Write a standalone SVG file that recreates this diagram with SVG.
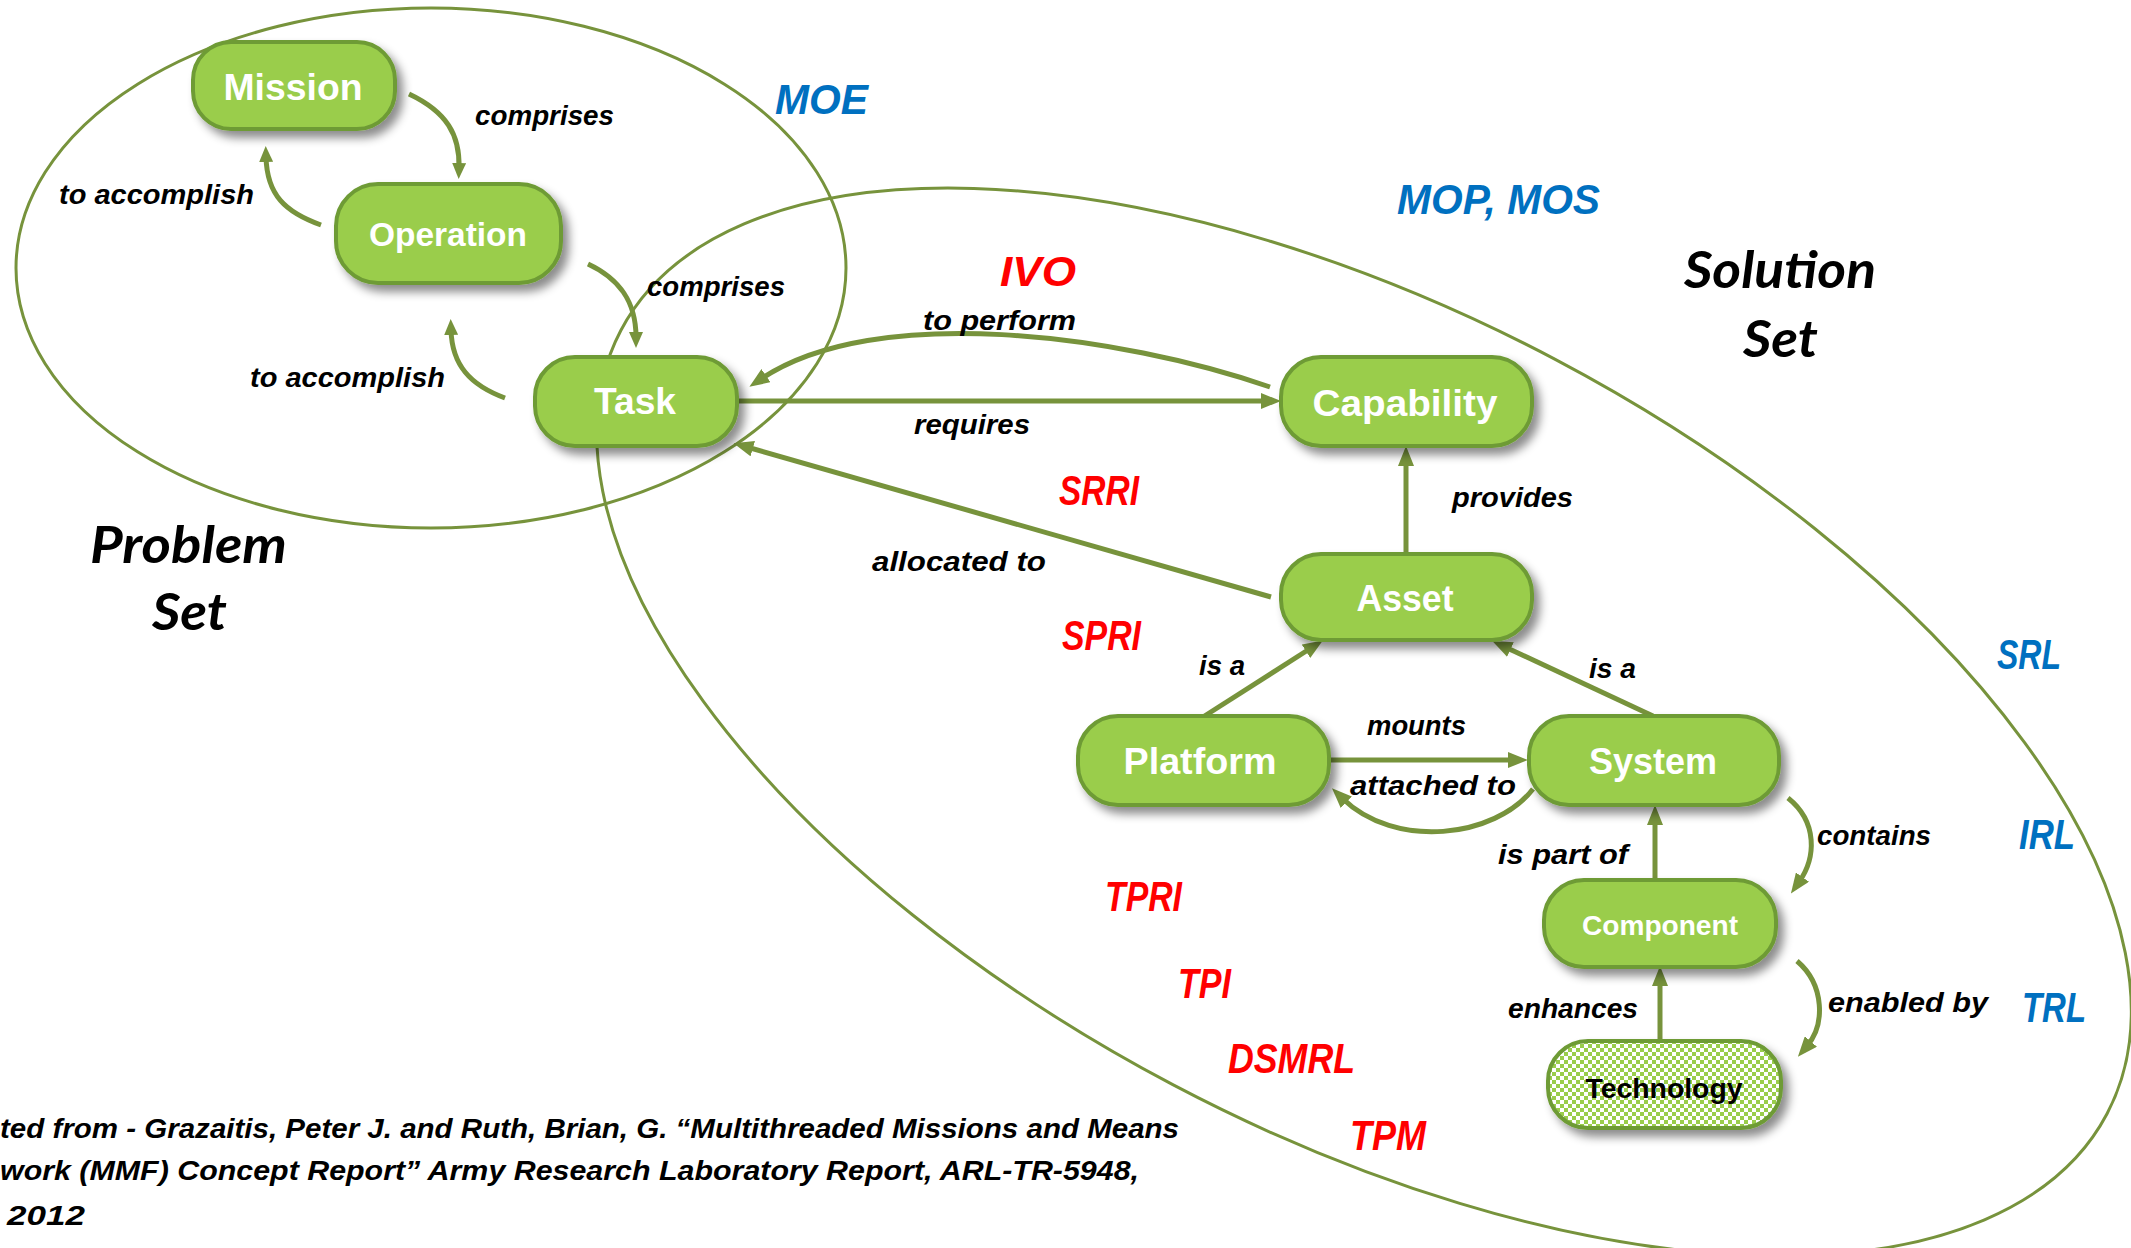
<svg xmlns="http://www.w3.org/2000/svg" width="2131" height="1248" viewBox="0 0 2131 1248">
  <defs>
    <style>
      .node rect { fill: #9ACD4C; stroke: #6E9B35; stroke-width: 4; filter: url(#shadow); }
      .node text { font-family: "Liberation Sans", Arial, sans-serif; font-weight: bold; fill: #FFFFFF; text-anchor: middle; }
      .set { fill: none; stroke: #77933C; stroke-width: 3; }
      .edge { fill: none; stroke: #77933C; stroke-width: 5; }
      .lbl { font-family: "Liberation Sans", Arial, sans-serif; font-weight: bold; font-style: italic; font-size: 28px; fill: #000000; }
      .metric { font-family: "Liberation Sans", Arial, sans-serif; font-weight: bold; font-style: italic; font-size: 42px; }
      .red { fill: #FF0000; }
      .blue { fill: #0070C0; }
      .title { font-family: Lato, "Open Sans", sans-serif; font-weight: bold; font-style: italic; font-size: 52px; fill: #000000; }
      .cite { font-family: "Liberation Sans", Arial, sans-serif; font-weight: bold; font-style: italic; font-size: 28px; fill: #000000; }
    </style>
    <filter id="shadow" x="-20%" y="-30%" width="150%" height="170%">
      <feDropShadow dx="6" dy="7" stdDeviation="5" flood-color="#000000" flood-opacity="0.45"/>
    </filter>
    <pattern id="checker" width="8" height="8" patternUnits="userSpaceOnUse">
      <rect width="8" height="8" fill="#FFFFFF"/>
      <rect width="4" height="4" fill="#9ACD4C"/>
      <rect x="4" y="4" width="4" height="4" fill="#9ACD4C"/>
    </pattern>
    <marker id="arrow" viewBox="0 0 20 16" refX="6" refY="8" markerWidth="20" markerHeight="16" markerUnits="userSpaceOnUse" orient="auto">
      <path d="M0,0 L20,8 L0,16 z" fill="#77933C"/>
    </marker>
    <marker id="arrow-sm" viewBox="0 0 16 14" refX="5" refY="7" markerWidth="16" markerHeight="14" markerUnits="userSpaceOnUse" orient="auto">
      <path d="M0,0 L16,7 L0,14 z" fill="#77933C"/>
    </marker>
  </defs>

  <rect width="2131" height="1248" fill="#FFFFFF"/>

  <!-- problem and solution set boundaries -->
  <g id="sets">
    <ellipse class="set" cx="431" cy="268" rx="415" ry="260"/>
    <ellipse class="set" cx="1364" cy="722" rx="840" ry="410" transform="rotate(27.8 1364 722)"/>
  </g>

  <!-- connectors -->
  <g id="connectors">
    <path class="edge" d="M409,94 C447,112 460,135 459,168" marker-end="url(#arrow-sm)"/>
    <path class="edge" d="M321,225 C285,212 267,195 266,157" marker-end="url(#arrow-sm)"/>
    <path class="edge" d="M588,264 C618,278 636,300 636,337" marker-end="url(#arrow-sm)"/>
    <path class="edge" d="M505,398 C470,385 452,365 451,330" marker-end="url(#arrow-sm)"/>
    <path class="edge" d="M1270,387 C1120,335 875,302 761,379" marker-end="url(#arrow)"/>
    <path class="edge" d="M737,401 L1267,401" marker-end="url(#arrow)"/>
    <path class="edge" d="M1271,597 L747,447" marker-end="url(#arrow)"/>
    <path class="edge" d="M1406,554 L1406,460" marker-end="url(#arrow)"/>
    <path class="edge" d="M1203,717 L1311,648" marker-end="url(#arrow)"/>
    <path class="edge" d="M1653,716 L1505,647" marker-end="url(#arrow)"/>
    <path class="edge" d="M1330,760 L1514,760" marker-end="url(#arrow)"/>
    <path class="edge" d="M1533,789 C1495,838 1395,850 1342,798" marker-end="url(#arrow)"/>
    <path class="edge" d="M1655,880 L1655,819" marker-end="url(#arrow)"/>
    <path class="edge" d="M1788,798 C1818,822 1816,858 1799,882" marker-end="url(#arrow)"/>
    <path class="edge" d="M1660,1041 L1660,980" marker-end="url(#arrow)"/>
    <path class="edge" d="M1797,961 C1825,985 1825,1025 1807,1046" marker-end="url(#arrow)"/>
  </g>

  <!-- nodes -->
  <g id="mission" class="node">
    <rect x="193" y="42" width="202" height="87" rx="38"/>
    <text x="293" y="100" font-size="36" textLength="139" lengthAdjust="spacingAndGlyphs">Mission</text>
  </g>
  <g id="operation" class="node">
    <rect x="336" y="184" width="225" height="99" rx="42"/>
    <text x="448" y="246" font-size="33" textLength="158" lengthAdjust="spacingAndGlyphs">Operation</text>
  </g>
  <g id="task" class="node">
    <rect x="535" y="357" width="202" height="89" rx="40"/>
    <text x="635" y="414" font-size="36" textLength="82" lengthAdjust="spacingAndGlyphs">Task</text>
  </g>
  <g id="capability" class="node">
    <rect x="1281" y="357" width="251" height="89" rx="40"/>
    <text x="1405" y="416" font-size="37" textLength="185" lengthAdjust="spacingAndGlyphs">Capability</text>
  </g>
  <g id="asset" class="node">
    <rect x="1281" y="554" width="251" height="86" rx="40"/>
    <text x="1405" y="611" font-size="37" textLength="97" lengthAdjust="spacingAndGlyphs">Asset</text>
  </g>
  <g id="platform" class="node">
    <rect x="1078" y="716" width="251" height="89" rx="40"/>
    <text x="1200" y="774" font-size="37" textLength="153" lengthAdjust="spacingAndGlyphs">Platform</text>
  </g>
  <g id="system" class="node">
    <rect x="1529" y="716" width="250" height="89" rx="40"/>
    <text x="1653" y="774" font-size="37" textLength="128" lengthAdjust="spacingAndGlyphs">System</text>
  </g>
  <g id="component" class="node">
    <rect x="1544" y="880" width="232" height="87" rx="40"/>
    <text x="1660" y="935" font-size="28" textLength="156" lengthAdjust="spacingAndGlyphs">Component</text>
  </g>
  <g id="technology" class="node">
    <rect x="1548" y="1041" width="233" height="87" rx="40" style="fill:url(#checker)"/>
    <text x="1664" y="1098" font-size="28" textLength="157" lengthAdjust="spacingAndGlyphs" style="fill:#000000">Technology</text>
  </g>

  <!-- relationship labels -->
  <g id="labels">
    <text class="lbl" x="475" y="125" textLength="139" lengthAdjust="spacingAndGlyphs">comprises</text>
    <text class="lbl" x="59" y="204" textLength="195" lengthAdjust="spacingAndGlyphs">to accomplish</text>
    <text class="lbl" x="647" y="296" textLength="138" lengthAdjust="spacingAndGlyphs">comprises</text>
    <text class="lbl" x="250" y="387" textLength="195" lengthAdjust="spacingAndGlyphs">to accomplish</text>
    <text class="lbl" x="923" y="330" textLength="153" lengthAdjust="spacingAndGlyphs">to perform</text>
    <text class="lbl" x="914" y="434" textLength="116" lengthAdjust="spacingAndGlyphs">requires</text>
    <text class="lbl" x="872" y="571" textLength="174" lengthAdjust="spacingAndGlyphs">allocated to</text>
    <text class="lbl" x="1452" y="507" textLength="121" lengthAdjust="spacingAndGlyphs">provides</text>
    <text class="lbl" x="1199" y="675" textLength="46" lengthAdjust="spacingAndGlyphs">is a</text>
    <text class="lbl" x="1589" y="678" textLength="47" lengthAdjust="spacingAndGlyphs">is a</text>
    <text class="lbl" x="1367" y="735" textLength="99" lengthAdjust="spacingAndGlyphs">mounts</text>
    <text class="lbl" x="1350" y="795" textLength="166" lengthAdjust="spacingAndGlyphs">attached to</text>
    <text class="lbl" x="1817" y="845" textLength="114" lengthAdjust="spacingAndGlyphs">contains</text>
    <text class="lbl" x="1498" y="864" textLength="130" lengthAdjust="spacingAndGlyphs">is part of</text>
    <text class="lbl" x="1508" y="1018" textLength="130" lengthAdjust="spacingAndGlyphs">enhances</text>
    <text class="lbl" x="1828" y="1012" textLength="160" lengthAdjust="spacingAndGlyphs">enabled by</text>
  </g>

  <!-- readiness and effectiveness measures -->
  <g id="measures">
    <text class="metric red" x="1000" y="286" textLength="76" lengthAdjust="spacingAndGlyphs">IVO</text>
    <text class="metric red" x="1059" y="505" textLength="80" lengthAdjust="spacingAndGlyphs">SRRI</text>
    <text class="metric red" x="1062" y="650" textLength="79" lengthAdjust="spacingAndGlyphs">SPRI</text>
    <text class="metric red" x="1105" y="911" textLength="77" lengthAdjust="spacingAndGlyphs">TPRI</text>
    <text class="metric red" x="1178" y="998" textLength="53" lengthAdjust="spacingAndGlyphs">TPI</text>
    <text class="metric red" x="1228" y="1073" textLength="127" lengthAdjust="spacingAndGlyphs">DSMRL</text>
    <text class="metric red" x="1350" y="1150" textLength="76" lengthAdjust="spacingAndGlyphs">TPM</text>
    <text class="metric blue" x="775" y="114" textLength="93" lengthAdjust="spacingAndGlyphs">MOE</text>
    <text class="metric blue" x="1397" y="214" textLength="203" lengthAdjust="spacingAndGlyphs">MOP, MOS</text>
    <text class="metric blue" x="1997" y="669" textLength="64" lengthAdjust="spacingAndGlyphs">SRL</text>
    <text class="metric blue" x="2019" y="849" textLength="56" lengthAdjust="spacingAndGlyphs">IRL</text>
    <text class="metric blue" x="2022" y="1022" textLength="64" lengthAdjust="spacingAndGlyphs">TRL</text>
  </g>

  <!-- set titles -->
  <g id="titles">
    <text class="title" x="90" y="563" textLength="197" lengthAdjust="spacingAndGlyphs">Problem</text>
    <text class="title" x="152" y="630" textLength="75" lengthAdjust="spacingAndGlyphs">Set</text>
    <text class="title" x="1684" y="288" textLength="192" lengthAdjust="spacingAndGlyphs">Solution</text>
    <text class="title" x="1743" y="357" textLength="75" lengthAdjust="spacingAndGlyphs">Set</text>
  </g>

  <!-- source note -->
  <g id="citation">
    <text class="cite" x="0" y="1138" textLength="1179" lengthAdjust="spacingAndGlyphs">ted from - Grazaitis, Peter J. and Ruth, Brian, G. “Multithreaded Missions and Means</text>
    <text class="cite" x="0" y="1180" textLength="1139" lengthAdjust="spacingAndGlyphs">work (MMF) Concept Report” Army Research Laboratory Report, ARL-TR-5948,</text>
    <text class="cite" x="7" y="1225" textLength="78" lengthAdjust="spacingAndGlyphs">2012</text>
  </g>
</svg>
